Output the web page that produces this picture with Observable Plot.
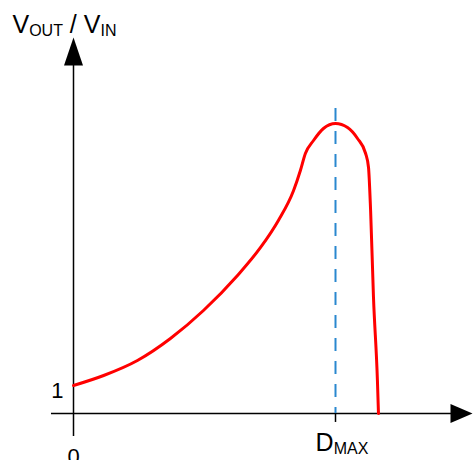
<!DOCTYPE html>
<html>
<head>
<meta charset="utf-8">
<script src="https://cdn.jsdelivr.net/npm/d3@7"></script>
<script src="https://cdn.jsdelivr.net/npm/@observablehq/plot@0.6"></script>
<style>
  html, body { margin: 0; padding: 0; background: #fff; }
  svg { display: block; }
</style>
</head>
<body>
<div id="chart"></div>
<script>
// Duty cycle (fraction of D_MAX) and gain curve V_OUT/V_IN (arbitrary units, 1 = unity gain)
const dutyX = [0, 0.115, 0.244, 0.370, 0.496, 0.626, 0.714, 0.782, 0.840, 0.866, 0.885, 0.916, 0.954, 1.0, 1.046, 1.084, 1.115, 1.126, 1.134, 1.145, 1.160, 1.164];
const gainY = [1.0, 1.357, 1.893, 2.679, 3.679, 4.929, 5.929, 6.893, 7.964, 8.679, 9.286, 9.75, 10.179, 10.357, 10.214, 9.821, 9.286, 8.786, 7.25, 4.143, 1.179, 0];
const dMax = 1.0;
const dMaxTop = 10.89;
// axis extents
const xAxisStart = -0.084, xAxisEnd = 1.523;
const yAxisStart = -0.82, yAxisEnd = 13.43;
// label texts (parts: [text, isSubscript])
const titleParts = [["V", false], ["OUT", true], [" / V", false], ["IN", true]];
const dMaxParts = [["D", false], ["MAX", true]];
const tickOne = "1";
const tickZero = "0";

const curve = dutyX.map((x, i) => ({x, y: gainY[i]}));
const subLabels = [
  {x: -0.233, y: 13.89, parts: titleParts},
  {x: 0.924, y: -1.071, parts: dMaxParts}
];

const arrowUp = {draw(ctx) { ctx.moveTo(0, 0); ctx.lineTo(-9.5, 28); ctx.lineTo(9.5, 28); ctx.closePath(); }};
const arrowRight = {draw(ctx) { ctx.moveTo(0, 0); ctx.lineTo(-22, -9.5); ctx.lineTo(-22, 9.5); ctx.closePath(); }};

const W = 473, H = 460;
const svg = Plot.plot({
  width: W, height: H,
  margin: 0,
  style: {fontFamily: "'Liberation Sans', Arial, sans-serif", background: "#fff"},
  x: {domain: [-73 / 262, (W - 73) / 262], axis: null},
  y: {domain: [(413 - H) / 28, 413 / 28], axis: null},
  marks: [
    // axes
    Plot.ruleY([0], {x1: xAxisStart, x2: xAxisEnd - 0.05, stroke: "black", strokeWidth: 1.5}),
    Plot.ruleX([0], {y1: yAxisStart, y2: yAxisEnd - 0.9, stroke: "black", strokeWidth: 1.5}),
    Plot.ruleX([dMax], {y1: 0, y2: -0.32, stroke: "black", strokeWidth: 1.5}),
    Plot.dot([{x: 0, y: yAxisEnd}], {x: "x", y: "y", symbol: arrowUp, fill: "black", stroke: "none", r: 5}),
    Plot.dot([{x: xAxisEnd, y: 0}], {x: "x", y: "y", symbol: arrowRight, fill: "black", stroke: "none", r: 5}),
    // D_MAX dashed line
    Plot.ruleX([dMax], {y1: dMaxTop, y2: 0, stroke: "#2a88cf", strokeWidth: 2, strokeDasharray: "13,10"}),
    // gain curve
    Plot.line(curve, {x: "x", y: "y", stroke: "#ff0000", strokeWidth: 3, curve: "monotone-x"}),
    // tick labels
    Plot.text([tickOne], {x: -0.038, y: 0.821, text: d => d, textAnchor: "end", fontSize: 22, fill: "black"}),
    Plot.text([tickZero], {x: 0, y: -1.536, text: d => d, textAnchor: "middle", fontSize: 22, fill: "black"}),
    Plot.text(subLabels, {x: "x", y: "y", text: d => d.parts.map(p => p[0]).join(""), textAnchor: "start", fontSize: 25, fill: "black", className: "sublabel"})
  ]
});

d3.select(svg).selectAll("g.sublabel text").each(function(_, i) {
  const parts = subLabels[i].parts;
  const t = d3.select(this);
  t.text(null).style("white-space", "pre");
  let shifted = false;
  parts.forEach(([s, sub]) => {
    const ts = t.append("tspan").text(s);
    if (sub) { ts.attr("font-size", 16); if (!shifted) { ts.attr("dy", 3); shifted = true; } }
    else if (shifted) { ts.attr("dy", -3); shifted = false; }
  });
});

document.getElementById("chart").appendChild(svg);
</script>
</body>
</html>
